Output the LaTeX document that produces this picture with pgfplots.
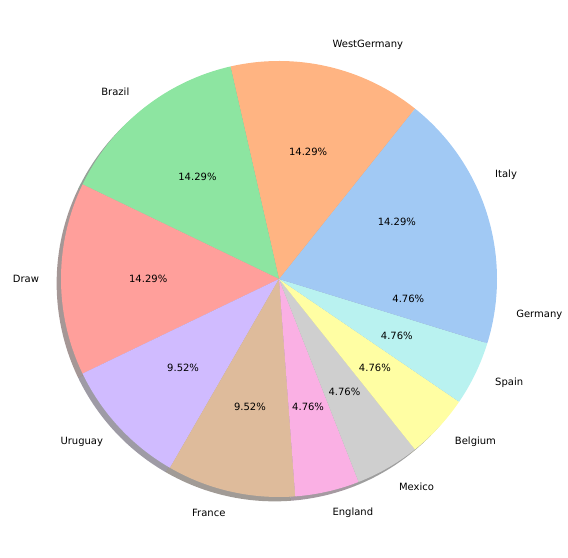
\documentclass[border=0pt]{standalone}
\usepackage{pgfplots}
\pgfplotsset{compat=1.18}
\usepackage{fontspec}
\setmainfont{DejaVu Sans}
\definecolor{c0}{HTML}{A1C9F4}
\definecolor{c1}{HTML}{FFB482}
\definecolor{c2}{HTML}{8DE5A1}
\definecolor{c3}{HTML}{FF9F9B}
\definecolor{c4}{HTML}{D0BBFF}
\definecolor{c5}{HTML}{DEBB9B}
\definecolor{c6}{HTML}{FAB0E4}
\definecolor{c7}{HTML}{CFCFCF}
\definecolor{c8}{HTML}{FFFEA3}
\definecolor{c9}{HTML}{B9F2F0}
\def\total{21}
% #1 cumulative start, #2 value, #3 colour
\newcommand{\pieshadow}[3]{%
  \pgfmathsetmacro\aa{360*#1/\total}\pgfmathsetmacro\bb{360*(#1+#2)/\total}%
  \edef\doit{\noexpand\addplot[fill=#3!30!black, fill opacity=0.5, draw=none, domain=\aa:\bb, samples=60]
    ({cos(x)-0.02},{sin(x)-0.02}) -- (axis cs:-0.02,-0.02) -- cycle;}\doit}
\newcommand{\pieslice}[4]{%
  \pgfmathsetmacro\aa{360*#1/\total}\pgfmathsetmacro\bb{360*(#1+#2)/\total}%
  \pgfmathsetmacro\mm{360*(#1+#2/2)/\total}%
  \pgfmathsetmacro\lx{1.1*cos(\mm)}\pgfmathsetmacro\ly{1.1*sin(\mm)}%
  \pgfmathsetmacro\px{0.6*cos(\mm)}\pgfmathsetmacro\py{0.6*sin(\mm)}%
  \pgfmathsetmacro\pct{100*#2/\total}%
  \pgfmathparse{\lx>0?"west":"east"}\edef\anc{\pgfmathresult}%
  \edef\doit{\noexpand\addplot[fill=#3, draw=none, domain=\aa:\bb, samples=60]
    ({cos(x)},{sin(x)}) -- (axis cs:0,0) -- cycle;
    \noexpand\node[anchor=\anc, inner sep=0pt] at (axis cs:\lx,\ly) {#4};
    \noexpand\node[inner sep=0pt] at (axis cs:\px,\py) {\noexpand\pgfmathprintnumber[fixed,fixed zerofill,precision=2]{\pct}\noexpand\%};}\doit}
\begin{document}
\begin{tikzpicture}
\begin{axis}[
  width=568pt, height=558pt, scale only axis,
  xmin=-1.2798, xmax=1.3257, ymin=-1.2798, ymax=1.2798,
  hide axis, clip=false,
  font=\fontsize{10}{12}\selectfont,
  /pgf/number format/assume math mode=true,
]
\addplot[draw=none, forget plot] coordinates {(-1.2798,-1.2798) (1.3257,1.2798)};
\pieshadow{0}{3}{c0}
\pieshadow{3}{3}{c1}
\pieshadow{6}{3}{c2}
\pieshadow{9}{3}{c3}
\pieshadow{12}{2}{c4}
\pieshadow{14}{2}{c5}
\pieshadow{16}{1}{c6}
\pieshadow{17}{1}{c7}
\pieshadow{18}{1}{c8}
\pieshadow{19}{1}{c9}
\pieshadow{20}{1}{c0}
\pieslice{0}{3}{c0}{Italy}
\pieslice{3}{3}{c1}{WestGermany}
\pieslice{6}{3}{c2}{Brazil}
\pieslice{9}{3}{c3}{Draw}
\pieslice{12}{2}{c4}{Uruguay}
\pieslice{14}{2}{c5}{France}
\pieslice{16}{1}{c6}{England}
\pieslice{17}{1}{c7}{Mexico}
\pieslice{18}{1}{c8}{Belgium}
\pieslice{19}{1}{c9}{Spain}
\pieslice{20}{1}{c0}{Germany}
\end{axis}
\end{tikzpicture}
\end{document}
